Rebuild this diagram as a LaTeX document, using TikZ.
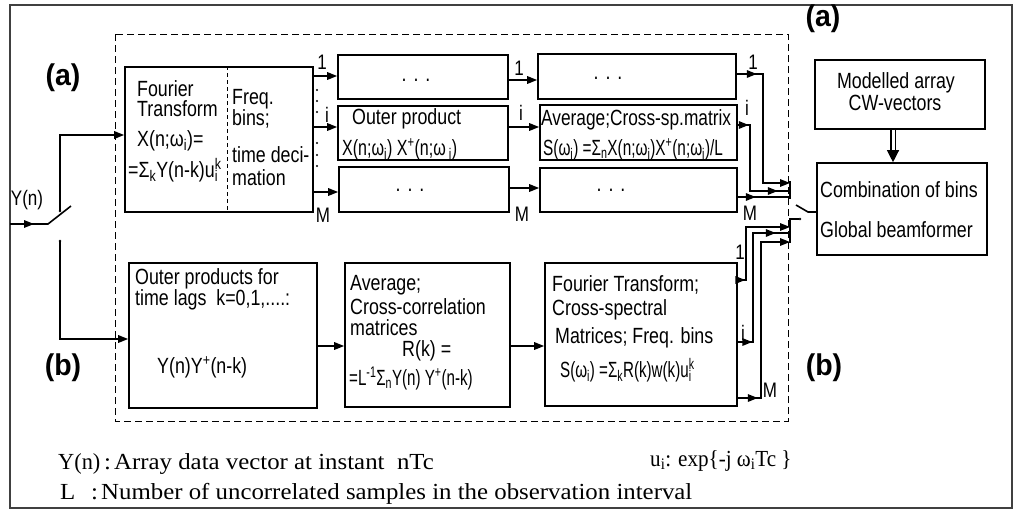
\documentclass[tikz,border=0pt]{standalone}
\usepackage{fontspec}
\setmainfont{Liberation Sans}[FakeStretch=0.81]
\newfontfamily\labfont{Liberation Sans}[FakeStretch=0.95]
\newfontfamily\serfont{Liberation Serif}[FakeStretch=1.08]
\usetikzlibrary{arrows.meta,decorations.markings,calc}
\newcommand\sps[2]{\makebox[0pt][l]{\textsuperscript{#1}}\textsubscript{#2}}
\begin{document}
\begin{tikzpicture}[x=1pt,y=-1pt,
  box/.style={draw, line width=1.6pt, inner sep=0pt},
  t/.style={inner sep=0pt, anchor=base west, font=\fontsize{22}{24}\selectfont},
  tc/.style={inner sep=0pt, font=\fontsize{22}{24}\selectfont},
  lab/.style={inner sep=0pt, font=\fontsize{21}{23}\selectfont},
  big/.style={inner sep=0pt, font=\labfont\bfseries\fontsize{30}{32}\selectfont},
  ser/.style={inner sep=0pt, anchor=base west, font=\serfont\fontsize{23}{25}\selectfont},
  ln/.style={line width=1.6pt},
  arr/.style={ln, -{Triangle[length=10pt,width=7.5pt]}},
  ma/.style={postaction={decorate,decoration={markings,mark=at position #1 with {\arrow{Triangle[length=10pt,width=7.5pt]}}}}},
  dotc/.style={fill, circle, inner sep=0pt, minimum size=2.6pt}
]
\useasboundingbox (0,0) rectangle (1015,512);
% frames
\draw[line width=1.2pt, black!75] (10,5) rectangle (1012,508);
\draw[line width=0.9pt, dash pattern=on 7pt off 4pt] (115,34) rectangle (788,421);

% boxes
\node[box, minimum width=188pt, minimum height=145pt] (FT1) at (219,139.5) {};
\draw[line width=0.9pt, dash pattern=on 4pt off 3pt] (FT1.north -| 227,0) -- (FT1.south -| 227,0);
\node[box, minimum width=170pt, minimum height=44pt] (R1C1) at (423,77) {};
\node[box, minimum width=170pt, minimum height=54pt] (R2C1) at (423,133) {};
\node[box, minimum width=170pt, minimum height=45pt] (R3C1) at (424,189.5) {};
\node[box, minimum width=198pt, minimum height=45pt] (R1C2) at (637,76.5) {};
\node[box, minimum width=197pt, minimum height=55pt] (R2C2) at (638.5,132.5) {};
\node[box, minimum width=197pt, minimum height=44pt] (R3C2) at (638.5,190) {};
\node[box, minimum width=170pt, minimum height=69pt] (Mod) at (900,94.5) {};
\node[box, minimum width=170pt, minimum height=92pt] (Comb) at (902,209) {};
\node[box, minimum width=188pt, minimum height=145pt] (OP) at (223,335.5) {};
\node[box, minimum width=165pt, minimum height=144pt] (AVG) at (427.5,335) {};
\node[box, minimum width=192pt, minimum height=143pt] (FT2) at (641,334.5) {};

% texts FT1
\node[t] (ft1a) at (137,96) {Fourier};
\node[t] (ft1b) at (137,116) {Transform};
\node[t] (ft1c) at (137,146) {X(n;ω\textsubscript{i})=};
\node[t] (ft1d) at (128,177) {=Σ\textsubscript{k}Y(n-k)u\sps{k}{i}};
\node[t] (ft1e) at (232,104) {Freq.};
\node[t] (ft1f) at (232,125) {bins;};
\node[t] (ft1g) at (232,162) {time deci-};
\node[t] (ft1h) at (232,185) {mation};
% row boxes
\node[tc] (d11) at (416,80) {.\hspace{7pt}.\hspace{7pt}.};
\node[tc] (d12) at (608,78) {.\hspace{7pt}.\hspace{7pt}.};
\node[tc] (d31) at (410,190) {.\hspace{7pt}.\hspace{7pt}.};
\node[tc] (d32) at (611,190) {.\hspace{7pt}.\hspace{7pt}.};
\node[t] (op1) at (352,124) {Outer product};
\node[t] (op2) at (342,155) {\scalebox{0.9}[1]{X(n;ω\textsubscript{i}) X\textsuperscript{+}(n;ω\textsubscript{ i})}};
\node[t] (av1) at (541,125) {\scalebox{0.97}[1]{Average;Cross-sp.matrix}};
\node[t] (av2) at (543,155) {\scalebox{0.86}[1]{S(ω\textsubscript{i}) =Σ\textsubscript{n}X(n;ω\textsubscript{i})X\textsuperscript{+}(n;ω\textsubscript{i})/L}};
% right boxes
\node[tc] (mo1) at (896,83) {Modelled array};
\node[tc] (mo2) at (895,103) {CW-vectors};
\node[t] (co1) at (820,197) {Combination of bins};
\node[t] (co2) at (820,237) {Global beamformer};
% bottom row
\node[t] (ob1) at (135,284) {Outer products for};
\node[t] (ob2) at (135,305) {time lags\ \ k=0,1,....:};
\node[t] (ob3) at (157,373) {Y(n)Y\textsuperscript{+}(n-k)};
\node[t] (ab1) at (350,290) {Average;};
\node[t] (ab2) at (350,314) {Cross-correlation};
\node[t] (ab3) at (350,335) {matrices};
\node[t] (ab4) at (402,356) {R(k) =};
\node[t] (ab5) at (349,385) {\scalebox{0.85}[1]{=L\textsuperscript{-1}Σ\textsubscript{n}Y(n) Y\textsuperscript{+}(n-k)}};
\node[t] (fb1) at (552,291) {Fourier Transform;};
\node[t] (fb2) at (552,315) {Cross-spectral};
\node[t] (fb3) at (555,343) {Matrices; Freq. bins};
\node[t] (fb4) at (560,377) {\scalebox{0.85}[1]{S(ω\textsubscript{i}) =Σ\textsubscript{k}R(k)w(k)u\sps{k}{i}}};

% big labels
\node[big] (la1) at (63,78) {(a)};
\node[big] (lb1) at (63,368) {(b)};
\node[big] (la2) at (823,19) {(a)};
\node[big] (lb2) at (824,368) {(b)};
\node[lab] (yn) at (27,200) {Y(n)};

% input switch
\coordinate (in) at (10,224);
\coordinate (sw) at (48,224);
\coordinate (swt) at (71,206);
\node[dotc] (ca) at (60,211) {};
\node[dotc] (cb) at (60,241) {};
\coordinate (ya) at (0,135);
\coordinate (yb) at (0,339);
\draw[ln, ma=24pt] (in) -- (sw) -- (swt);
\draw[arr] (ca.center) |- (FT1.west |- ya);
\draw[arr] (cb.center) |- (OP.west |- yb);

% FT1 outputs
\coordinate (y1) at (0,76);
\coordinate (yi) at (0,127);
\coordinate (yM) at (0,192);
\draw[arr] (FT1.east |- y1) -- (R1C1.west |- y1);
\draw[arr] (FT1.east |- yi) -- (R2C1.west |- yi);
\draw[arr] (FT1.east |- yM) -- (R3C1.west |- yM);
\node[lab] (l1a) at (322,62) {1};
\node[lab] (lia) at (327,115) {i};
\node[lab] (lMa) at (323,215) {M};
\foreach \yy [count=\k] in {90,101,112,143,155,166} \node[dotc, minimum size=2.4pt] (vd\k) at (317,\yy) {};

% col1 -> col2
\coordinate (z1) at (0,80);
\coordinate (zi) at (0,127);
\coordinate (zM) at (0,188);
\draw[arr] (R1C1.east |- z1) -- (R1C2.west |- z1);
\draw[arr] (R2C1.east |- zi) -- (R2C2.west |- zi);
\draw[arr] (R3C1.east |- zM) -- (R3C2.west |- zM);
\node[lab] (l1b) at (519,68) {1};
\node[lab] (lib) at (521,113) {i};
\node[lab] (lMb) at (522,214) {M};

% contacts
\coordinate (bat) at (790,181);
\coordinate (bab) at (790,199);
\coordinate (bbt) at (790,219);
\coordinate (bbb) at (790,243);
\draw[ln] (bat) -- (bab);
\draw[ln] (bbb) -- (bbt) -- (799,219);
\node[dotc] (cbt) at (800,219) {};
\coordinate (rodp) at (808,212);
\coordinate (rode) at (796,205);
\draw[ln] (Comb.west |- rodp) -- (rodp) -- (rode);

% col2 -> combination (a)
\coordinate (w1) at (0,74);
\coordinate (wi) at (0,125);
\coordinate (wM) at (0,197);
\draw[arr, ma=20pt] (R1C2.east |- w1) -- (763,74) |- (bat |- 0,183);
\draw[ln, ma=11pt, ma=106pt] (R2C2.east |- wi) -- (750,125) |- (bat |- 0,191);
\draw[ln, ma=18pt] (R3C2.east |- wM) -- (bab |- wM);
\node[lab] (l1c) at (753,62) {1};
\node[lab] (lic) at (747,108) {i};
\node[lab] (lMc) at (750,213) {M};

% FT2 -> combination (b)
\coordinate (v1) at (0,280);
\coordinate (vi) at (0,342);
\coordinate (vM) at (0,398);
\draw[arr, ma=7.5pt] (FT2.east |- v1) -- (746,280) |- (bbt |- 0,227);
\draw[ln, ma=14.5pt, ma=147pt] (FT2.east |- vi) -- (753,342) |- (bbt |- 0,233);
\draw[arr, ma=20pt] (FT2.east |- vM) -- (761,398) |- (bbt |- 0,242);
\node[lab] (l1d) at (740,252) {1};
\node[lab] (lid) at (743,333) {i};
\node[lab] (lMd) at (770,390) {M};

% bottom chain
\coordinate (u) at (0,346);
\draw[arr] (OP.east |- u) -- (AVG.west |- u);
\draw[arr] (AVG.east |- u) -- (FT2.west |- u);

% modelled -> combination
\draw[line width=1.2pt, double distance=3pt, -{Triangle[length=12pt,width=12pt]}] ($(Mod.south)+(-7,0)$) -- ($(Comb.north)+(-9,0)$);

% legend
\node[ser] (g1) at (58,469) {\scalebox{0.9}[1]{Y(n)}};
\node[ser] (g2) at (104,469) {:};
\node[ser] (g3) at (114,469) {Array data vector at instant\ \ nTc};
\node[ser] (g4) at (60,499) {L};
\node[ser] (g5) at (91,499) {:};
\node[ser] (g6) at (101,499) {Number of uncorrelated samples in the observation interval};
\node[ser] (g7) at (650,466) {\scalebox{0.85}[1]{u\textsubscript{i}: exp\{-j ω\textsubscript{i}Tc \}}};
\end{tikzpicture}
\end{document}
